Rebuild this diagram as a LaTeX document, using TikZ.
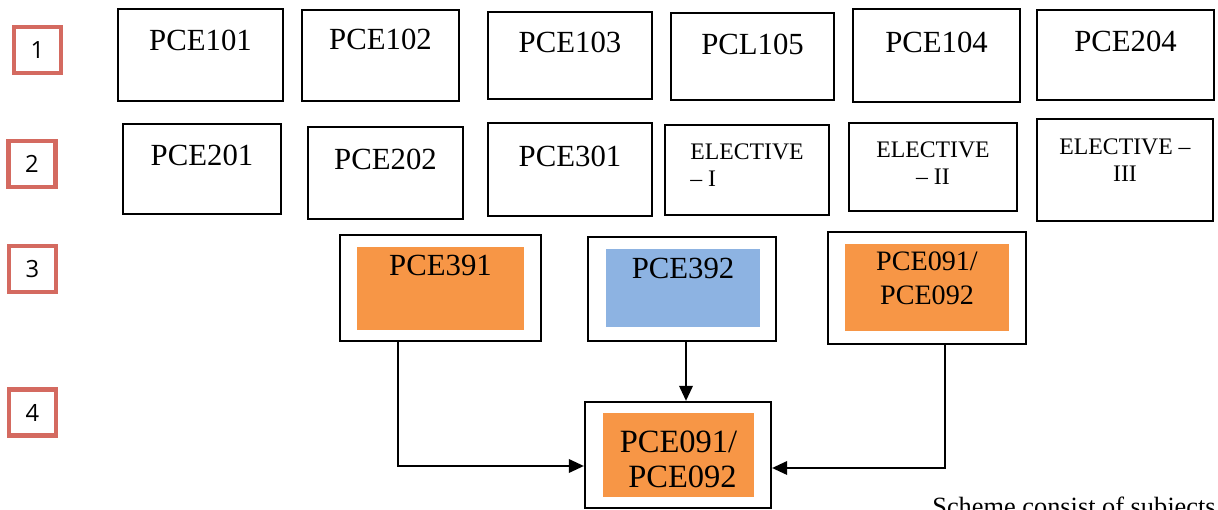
\documentclass[tikz,border=0pt]{standalone}
\usepackage{fontspec}
\setmainfont{Liberation Serif}
\newfontfamily\tagfont{Open Sans}
\usetikzlibrary{arrows.meta}
\definecolor{tagred}{RGB}{212,106,96}
\definecolor{projorange}{RGB}{247,150,70}
\definecolor{projblue}{RGB}{141,179,226}

\begin{document}
\begin{tikzpicture}[x=0.02cm, y=-0.02cm,
    course/.style={draw, line width=1.3pt, inner sep=0pt, font=\fontsize{17.5}{20}\selectfont},
    elective/.style={draw, line width=1.3pt, inner sep=0pt, font=\fontsize{13.5}{15.5}\selectfont},
    tag/.style={draw=tagred, line width=2.3pt, minimum width=0.94cm, minimum height=0.92cm, inner sep=0pt, font=\tagfont\fontsize{13.5}{16}\selectfont},
    outerbox/.style={draw, line width=1.3pt, inner sep=0pt},
    project/.style={inner sep=0pt, align=center, font=\fontsize{17.5}{20}\selectfont},
    link/.style={line width=1.1pt, -{Triangle[length=0.3cm, width=0.27cm]}}]
    \clip (0,0) rectangle (1218,510);

    % row numbers
    \node[tag] (t1) at (37.5,50) {1};
    \node[tag] (t2) at (32,164) {2};
    \node[tag] (t3) at (32.5,269) {3};
    \node[tag] (t4) at (32.5,412.5) {4};

    % first row
    \node[course, minimum width=3.3cm, text height=0.84cm, text depth=1.0cm] (c101) at (200.5,55) {PCE101};
    \node[course, minimum width=3.14cm, text height=0.8cm, text depth=1.02cm] (c102) at (380.5,55.5) {PCE102};
    \node[course, minimum width=3.28cm, text height=0.82cm, text depth=0.92cm] (c103) at (570,55.5) {PCE103};
    \node[course, minimum width=3.26cm, text height=0.84cm, text depth=0.9cm] (c105) at (752.5,56.5) {PCL105};
    \node[course, minimum width=3.34cm, text height=0.88cm, text depth=0.98cm] (c104) at (936.5,55.5) {PCE104};
    \node[course, minimum width=3.54cm, text height=0.84cm, text depth=0.96cm] (c204) at (1125.5,55) {PCE204};

    % second row
    \node[course, minimum width=3.16cm, text height=0.84cm, text depth=0.96cm] (c201) at (202,169) {PCE201};
    \node[course, minimum width=3.1cm, text height=0.84cm, text depth=1.0cm] (c202) at (385.5,173) {PCE202};
    \node[course, minimum width=3.28cm, text height=0.86cm, text depth=1.0cm] (c301) at (570,169.5) {PCE301};
    \node[elective, align=left, minimum width=3.28cm, text height=1.24cm, text depth=0.56cm] (el1) at (747,170) {ELECTIVE\\– I};
    \node[elective, align=center, minimum width=3.36cm, text height=1.24cm, text depth=0.52cm] (el2) at (933,167) {ELECTIVE\\– II};
    \node[elective, align=center, minimum width=3.52cm, text height=1.26cm, text depth=0.78cm] (el3) at (1125,170) {ELECTIVE –\\III};

    % third row
    \node[outerbox, minimum width=4.02cm, minimum height=2.12cm] (s391) at (440.5,288) {};
    \node[project, fill=projorange, minimum width=3.34cm, text height=0.56cm, text depth=1.1cm] (p391) at (440.5,288.5) {PCE391};
    \node[outerbox, minimum width=3.76cm, minimum height=2.08cm] (s392) at (682,289) {};
    \node[project, fill=projblue, minimum width=3.08cm, text height=0.58cm, text depth=0.98cm] (p392) at (683,288) {PCE392};
    \node[outerbox, minimum width=3.96cm, minimum height=2.24cm] (s091) at (927,288) {};
    \node[project, fill=projorange, minimum width=3.28cm, text height=1.22cm, text depth=0.52cm,
          font=\fontsize{16}{19.8}\selectfont] (p091) at (927,287.5) {PCE091/\\PCE092};

    % fourth row
    \node[outerbox, minimum width=3.72cm, minimum height=2.12cm] (fin) at (678,455) {};
    \node[project, fill=projorange, minimum width=3.02cm, text height=1.5cm, text depth=0.18cm,
          font=\fontsize{18.5}{20.4}\selectfont] (pfin) at (678.5,455) {PCE091/\\\ PCE092};

    \draw[link] ([xshift=-0.85cm]s391.south) |- ([yshift=-0.22cm]fin.west);
    \draw[link] ([xshift=0.08cm]s392.south) -- ([xshift=0.16cm]fin.north);
    \draw[link] ([xshift=0.36cm]s091.south) |- ([yshift=-0.26cm]fin.east);

    \node[anchor=base west, inner sep=0pt, font=\fontsize{15}{18}\selectfont] (note) at (932,515) {Scheme consist of subjects};
\end{tikzpicture}
\end{document}
